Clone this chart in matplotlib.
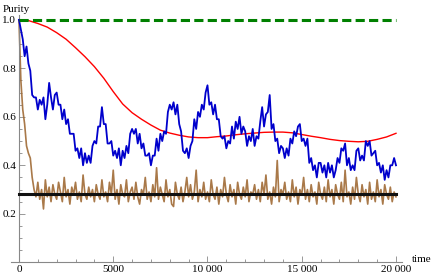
import numpy as np
import matplotlib
matplotlib.use("Agg")
import matplotlib.pyplot as plt
from matplotlib.ticker import MultipleLocator

plt.rcParams['font.family'] = ['Liberation Serif', 'DejaVu Serif']

# time grid for the noisy traces (step 100)
t = np.arange(0, 20001, 100)

# purity, in hundredths
blue = [100, 96, 92, 85, 89, 82, 79, 69, 68, 68,
        63, 67, 65, 68, 59, 65, 74, 68, 63, 69,
        70, 65, 65, 59, 63, 57, 59, 53, 53, 53,
        46, 47, 43, 47, 40, 45, 41, 44, 41, 48,
        50, 49, 56, 56, 64, 57, 57, 49, 49, 50,
        44, 46, 43, 47, 40, 46, 43, 48, 45, 53,
        55, 53, 55, 49, 53, 47, 49, 44, 44, 45,
        40, 44, 44, 51, 46, 53, 50, 54, 53, 62,
        65, 63, 66, 61, 65, 57, 54, 46, 45, 47,
        43, 48, 50, 59, 55, 62, 60, 65, 63, 70,
        73, 65, 66, 61, 65, 59, 59, 52, 51, 52,
        47, 50, 49, 56, 51, 58, 55, 60, 53, 56,
        54, 48, 52, 50, 55, 48, 52, 51, 58, 64,
        56, 61, 62, 69, 55, 57, 50, 51, 45, 48,
        47, 43, 47, 44, 51, 49, 54, 52, 56, 57,
        50, 51, 48, 51, 41, 43, 38, 40, 35, 41,
        41, 37, 40, 35, 41, 37, 40, 35, 38, 43,
        41, 47, 46, 49, 40, 43, 38, 40, 38, 46,
        47, 42, 44, 42, 50, 48, 50, 44, 45, 46,
        40, 41, 37, 40, 34, 38, 35, 40, 40, 43, 40]

brown = [100, 75, 63, 57, 48, 45, 43, 35, 30, 27,
         33, 26, 30, 22, 34, 27, 31, 25, 32, 28,
         26, 33, 29, 25, 35, 27, 30, 24, 31, 28,
         33, 26, 29, 25, 36, 28, 26, 31, 27, 30,
         25, 32, 28, 26, 34, 27, 29, 25, 33, 28,
         38, 26, 30, 24, 32, 28, 27, 34, 25, 29,
         31, 26, 33, 27, 24, 30, 28, 35, 26, 29,
         25, 32, 27, 39, 26, 31, 28, 25, 34, 27,
         30, 24, 23, 33, 28, 26, 31, 25, 29, 35,
         27, 32, 26, 29, 38, 25, 30, 27, 33, 26,
         29, 25, 34, 28, 26, 31, 24, 30, 27, 35,
         28, 25, 32, 27, 30, 24, 33, 28, 26, 31,
         27, 34, 25, 29, 28, 32, 26, 30, 25, 33,
         28, 36, 26, 29, 24, 31, 27, 42, 25, 30,
         28, 33, 26, 29, 25, 34, 27, 31, 24, 30,
         28, 35, 26, 30, 25, 32, 27, 29, 24, 33,
         28, 26, 31, 25, 34, 27, 30, 24, 32, 28,
         26, 33, 25, 38, 27, 29, 24, 31, 26, 35,
         28, 25, 32, 27, 30, 24, 33, 26, 29, 25,
         34, 27, 30, 24, 32, 28, 26, 31, 25, 29, 27]

# smooth red curve (step 500)
t_red = np.arange(0, 20001, 500)
red = [1.000, 0.997, 0.985, 0.970, 0.947, 0.920, 0.885, 0.848, 0.807, 0.759,
       0.704, 0.653, 0.617, 0.590, 0.566, 0.545, 0.533, 0.524, 0.517, 0.514,
       0.514, 0.518, 0.521, 0.526, 0.530, 0.533, 0.536, 0.537, 0.537, 0.534,
       0.527, 0.520, 0.514, 0.507, 0.502, 0.499, 0.497, 0.499, 0.507, 0.517,
       0.532]

green_level = 1.0
black_level = 0.28

xticks = [0, 5000, 10000, 15000, 20000]
xlabels = ["0", "5000", "10 000", "15 000", "20 000"]
yticks = [0.2, 0.4, 0.6, 0.8, 1.0]
ylabels = ["0.2", "0.4", "0.6", "0.8", "1.0"]

fig = plt.figure(figsize=(4.36, 2.78), dpi=100)
ax = fig.add_axes([0.0252, 0.0565, 0.8968, 0.8896])

ax.plot(t, np.array(brown) / 100., color='#a06a35', lw=1.2, alpha=0.9, zorder=2)
ax.plot(t_red, red, color='#ff0000', lw=1.0, zorder=3)
ax.plot(t, np.array(blue) / 100., color='#0000cc', lw=1.3, zorder=4)
ax.plot([0, 20000], [black_level, black_level], color='#111111', lw=2.2, zorder=5)
ax.plot([0, 20000], [green_level, green_level], color='#008000', lw=2.2,
        dashes=(3, 1.4), dash_capstyle='butt', zorder=6)

ax.set_xlim(-424, 20318)
ax.set_ylim(0, 1.02)

for s in ['top', 'right']:
    ax.spines[s].set_visible(False)
ax.spines['left'].set_position(('data', 0))
for s in ['left', 'bottom']:
    ax.spines[s].set_color('#888888')
    ax.spines[s].set_linewidth(0.8)

ax.set_xticks(xticks)
ax.set_xticklabels(xlabels)
ax.set_yticks(yticks)
ax.set_yticklabels(ylabels)
ax.xaxis.set_minor_locator(MultipleLocator(1000))
ax.yaxis.set_minor_locator(MultipleLocator(0.05))
ax.tick_params(which='both', direction='in', color='#888888', width=0.6,
               labelsize=8, pad=2)
ax.tick_params(which='major', length=4)
ax.tick_params(which='minor', length=2.2)

fig.text(0.007, 0.965, "Purity", fontsize=8, ha='left', va='center')
fig.text(0.945, 0.065, "time", fontsize=8, ha='left', va='center')

fig.savefig("out.png", dpi=100)
